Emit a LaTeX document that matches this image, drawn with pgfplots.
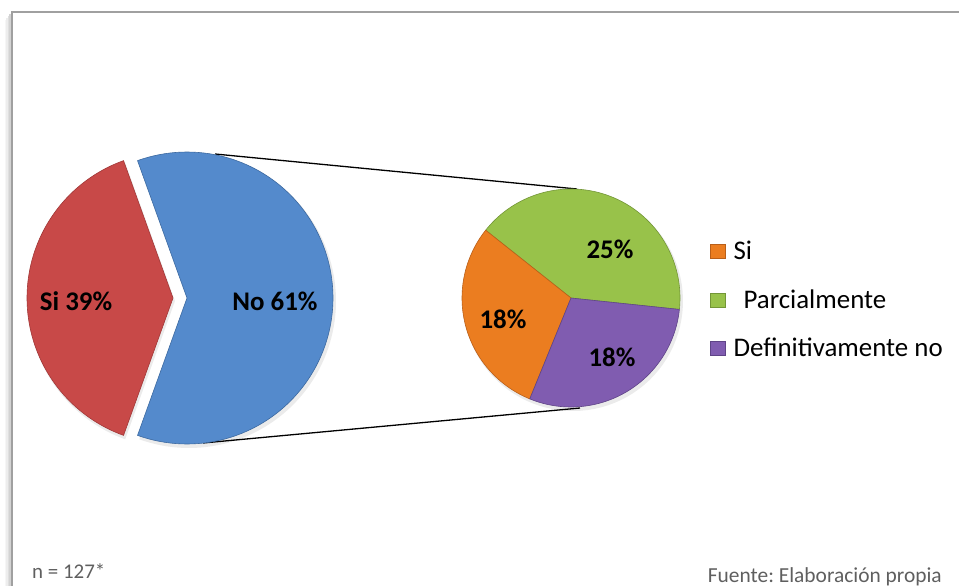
\documentclass[border=0pt]{standalone}
\usepackage{pgfplots}
\pgfplotsset{compat=1.18}
\usepackage{fontspec}
\setmainfont{Carlito}
\frenchspacing
\definecolor{cRed}{RGB}{200,73,72}
\definecolor{cRedD}{RGB}{160,55,55}
\definecolor{cBlue}{RGB}{84,138,204}
\definecolor{cBlueD}{RGB}{60,105,160}
\definecolor{cGreen}{RGB}{152,194,74}
\definecolor{cGreenD}{RGB}{115,150,55}
\definecolor{cOrange}{RGB}{235,125,32}
\definecolor{cOrangeD}{RGB}{185,95,25}
\definecolor{cPurple}{RGB}{128,92,176}
\definecolor{cPurpleD}{RGB}{95,68,135}
\definecolor{cFrame}{RGB}{160,160,160}
\definecolor{cNote}{RGB}{95,95,95}
% data (percent)
\def\vSi{39}
\def\vNo{61}
\def\vPar{25}
\def\vSiB{18}
\def\vDef{18}
\begin{document}
\begin{tikzpicture}
\pgfmathsetmacro\noHalf{\vNo*3.6/2}
\pgfmathsetmacro\siEnd{360-\noHalf}
\pgfmathsetmacro\tot{\vPar+\vSiB+\vDef}
\pgfmathsetmacro\gA{-6}
\pgfmathsetmacro\gB{\gA+\vPar/\tot*360}
\pgfmathsetmacro\gC{\gB+\vSiB/\tot*360}
\pgfmathsetmacro\gD{\gC+\vDef/\tot*360}
\begin{axis}[
  width=959bp, height=586bp, scale only axis,
  xmin=0, xmax=959, ymin=0, ymax=586, y dir=reverse,
  axis lines=none,
  legend style={at={(axis cs:710,239)}, anchor=north west, draw=none, fill=none,
    font=\fontsize{27}{29}\selectfont, row sep=24.5bp, inner sep=0pt},
  legend cell align=left,
  legend image code/.code={\fill[#1] (0bp,-7bp) rectangle (15bp,7bp); \path (21bp,0bp);},
]
% invisible bounding frame
\addplot[forget plot, draw=none] coordinates {(0,0) (959,586)};
% frame and shadow
\addplot[forget plot, gray, opacity=0.07, line width=1.6bp] coordinates {(5.5,20) (5.5,586)};
\addplot[forget plot, gray, opacity=0.14, line width=1.6bp] coordinates {(7,18) (7,586)};
\addplot[forget plot, gray, opacity=0.25, line width=1.6bp] coordinates {(8.5,16) (8.5,586)};
\addplot[forget plot, gray, opacity=0.35, line width=1.6bp] coordinates {(10,14) (10,586)};
\addplot[forget plot, cFrame, line width=2bp] coordinates {(12,586) (12,12) (959,12)};
% soft shadows
\addplot[forget plot, fill=black, draw=none, opacity=0.08, domain=-\noHalf:\noHalf, samples=100, variable=\t]
  ({189+147*cos(\t)},{301-147*sin(\t)}) -- (axis cs:189,301) -- cycle;
\addplot[forget plot, fill=black, draw=none, opacity=0.08, domain=\noHalf:\siEnd, samples=80, variable=\t]
  ({175+147*cos(\t)},{301-147*sin(\t)}) -- (axis cs:175,301) -- cycle;
\addplot[forget plot, fill=black, draw=none, opacity=0.08, domain=\gA:\gD, samples=100, variable=\t]
  ({573+110*cos(\t)},{301-110*sin(\t)}) -- (axis cs:573,301) -- cycle;
% connector lines
\addplot[forget plot, black, line width=1.3bp] coordinates {(215,154) (577,189)};
\addplot[forget plot, black, line width=1.3bp] coordinates {(203,443) (580,408)};
% main pie
\addplot[forget plot, fill=cBlue, draw=cBlueD, line width=0.6bp, domain=-\noHalf:\noHalf, samples=100, variable=\t]
  ({187+146*cos(\t)},{298-146*sin(\t)}) -- (axis cs:187,298) -- cycle;
\addplot[forget plot, fill=cRed, draw=cRedD, line width=0.6bp, domain=\noHalf:\siEnd, samples=80, variable=\t]
  ({173+146*cos(\t)},{298-146*sin(\t)}) -- (axis cs:173,298) -- cycle;
% second pie
\addplot[forget plot, fill=cGreen, draw=cGreenD, line width=0.6bp, domain=\gA:\gB, samples=80, variable=\t]
  ({571+109*cos(\t)},{298-109*sin(\t)}) -- (axis cs:571,298) -- cycle;
\addplot[forget plot, fill=cOrange, draw=cOrangeD, line width=0.6bp, domain=\gB:\gC, samples=60, variable=\t]
  ({571+109*cos(\t)},{298-109*sin(\t)}) -- (axis cs:571,298) -- cycle;
\addplot[forget plot, fill=cPurple, draw=cPurpleD, line width=0.6bp, domain=\gC:\gD, samples=60, variable=\t]
  ({571+109*cos(\t)},{298-109*sin(\t)}) -- (axis cs:571,298) -- cycle;
% labels
\node[font=\bfseries\fontsize{27}{30}\selectfont, inner sep=0pt] at (axis cs:76,301) {Si 39\%};
\node[font=\bfseries\fontsize{27}{30}\selectfont, inner sep=0pt] at (axis cs:275,301) {No 61\%};
\node[font=\bfseries\fontsize{27}{30}\selectfont, inner sep=0pt] at (axis cs:610,249) {25\%};
\node[font=\bfseries\fontsize{27}{30}\selectfont, inner sep=0pt] at (axis cs:503,319) {18\%};
\node[font=\bfseries\fontsize{27}{30}\selectfont, inner sep=0pt] at (axis cs:612,357) {18\%};
\node[font=\fontsize{21}{24}\selectfont, text=cNote, anchor=base west, inner sep=0pt] at (axis cs:32,578) {n = 127*};
\node[font=\fontsize{21.5}{24}\selectfont, text=cNote, anchor=base east, inner sep=0pt] at (axis cs:942,582) {Fuente: Elaboración propia};
% legend
\addlegendimage{fill=cOrange, draw=cOrangeD}
\addlegendimage{fill=cGreen, draw=cGreenD}
\addlegendimage{fill=cPurple, draw=cPurpleD}
\legend{Si, \hspace{10bp}Parcialmente, Definitivamente no}
\end{axis}
\end{tikzpicture}
\end{document}
